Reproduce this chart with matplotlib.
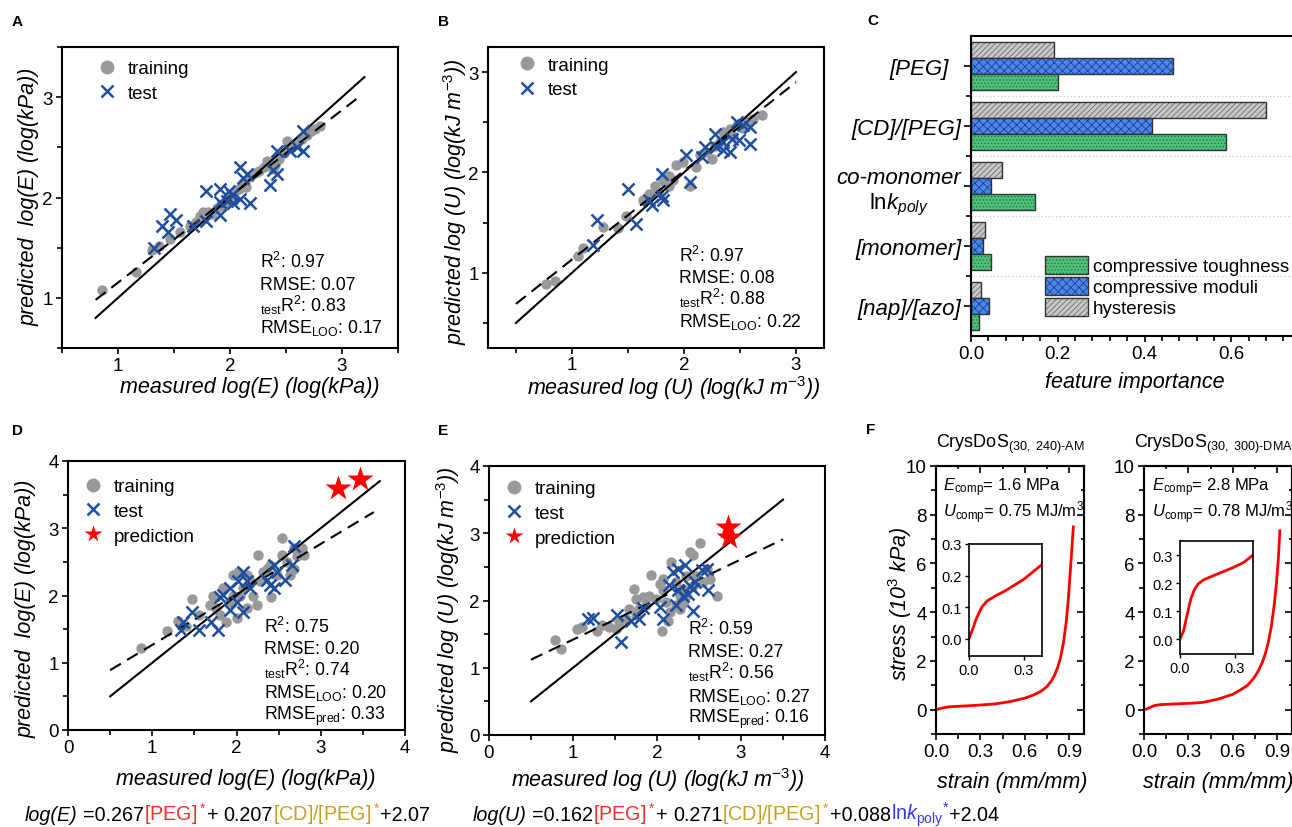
import matplotlib
matplotlib.use("Agg")
import matplotlib.pyplot as plt
from matplotlib.patches import Patch
from matplotlib.ticker import MultipleLocator, FormatStrFormatter

plt.rcParams['font.family'] = ['Liberation Sans', 'DejaVu Sans']
plt.rcParams['mathtext.fontset'] = 'custom'
plt.rcParams['mathtext.rm'] = 'Liberation Sans'
plt.rcParams['mathtext.it'] = 'Liberation Sans:italic'
plt.rcParams['mathtext.bf'] = 'Liberation Sans:bold'
plt.rcParams['hatch.linewidth'] = 0.6

W, H = 1292, 828
GRAY = '#999999'
BLUE = '#1F4E9F'

# ---- panel A: compressive moduli, training / test ----
A_TRAIN_X = [0.86, 1.16, 1.30, 1.37, 1.46, 1.55, 1.64, 1.70, 1.73, 1.76, 1.80, 1.84, 1.88, 1.92,
             1.96, 2.00, 2.04, 2.08, 2.12, 2.14, 2.18, 2.22, 2.26, 2.30, 2.33, 2.36, 2.40, 2.44,
             2.48, 2.51, 2.55, 2.60, 2.64, 2.69, 2.72, 2.76, 2.80, 2.04, 1.95, 2.38]
A_TRAIN_Y = [1.08, 1.26, 1.48, 1.52, 1.59, 1.66, 1.72, 1.76, 1.82, 1.86, 1.86, 1.84, 1.90, 1.94,
             1.98, 2.02, 2.04, 2.08, 2.14, 2.10, 2.20, 2.24, 2.26, 2.30, 2.36, 2.34, 2.32, 2.38,
             2.44, 2.56, 2.50, 2.54, 2.58, 2.62, 2.66, 2.68, 2.71, 1.98, 1.92, 2.28]
A_TEST_X = [1.32, 1.39, 1.46, 1.52, 1.45, 1.67, 1.79, 1.79, 1.91, 1.91, 1.99, 1.97, 2.03, 2.09,
            2.18, 2.09, 2.12, 2.15, 2.36, 2.38, 2.42, 2.42, 2.54, 2.60, 2.65, 2.65, 1.91, 2.02]
A_TEST_Y = [1.50, 1.72, 1.84, 1.78, 1.66, 1.72, 1.77, 2.06, 1.83, 2.08, 2.06, 1.97, 1.95, 1.99,
            1.95, 2.30, 2.19, 2.23, 2.12, 2.27, 2.23, 2.46, 2.46, 2.50, 2.46, 2.66, 1.96, 2.02]
A_PARITY = [0.8, 3.2]
A_FIT_X = [0.8, 3.15]
A_FIT_Y = [0.98, 3.0]
A_STATS = ["R$^2$: 0.97", "RMSE: 0.07", "$_{\\mathrm{test}}$R$^2$: 0.83",
           "RMSE$_{\\mathrm{LOO}}$: 0.17"]

# ---- panel B: compressive toughness, training / test ----
B_TRAIN_X = [0.77, 0.85, 1.05, 1.10, 1.28, 1.41, 1.48, 1.63, 1.69, 1.74, 1.81, 1.87, 1.93, 1.99,
             2.11, 2.05, 2.14, 2.20, 2.25, 2.32, 2.35, 2.41, 2.47, 2.56, 2.62, 2.70, 1.87, 1.77,
             1.90, 2.28, 2.44, 2.52]
B_TRAIN_Y = [0.89, 0.92, 1.17, 1.25, 1.46, 1.45, 1.57, 1.73, 1.78, 1.86, 1.91, 1.96, 2.07, 2.10,
             2.05, 1.86, 2.17, 2.20, 2.13, 2.30, 2.40, 2.43, 2.47, 2.50, 2.53, 2.57, 1.86, 1.80,
             1.92, 2.26, 2.36, 2.44]
B_TEST_X = [1.19, 1.22, 1.50, 1.57, 1.69, 1.71, 1.80, 1.80, 1.81, 2.05, 2.02, 2.16, 2.19, 2.28,
            2.29, 2.35, 2.35, 2.41, 2.43, 2.49, 2.47, 2.59, 2.59, 2.53]
B_TEST_Y = [1.28, 1.53, 1.83, 1.49, 1.73, 1.68, 1.98, 1.76, 1.73, 1.90, 2.17, 2.15, 2.25, 2.38,
            2.25, 2.30, 2.22, 2.20, 2.33, 2.32, 2.50, 2.45, 2.28, 2.47]
B_PARITY = [0.5, 3.0]
B_FIT_X = [0.5, 3.0]
B_FIT_Y = [0.69, 2.9]
B_STATS = ["R$^2$: 0.97", "RMSE: 0.08", "$_{\\mathrm{test}}$R$^2$: 0.88",
           "RMSE$_{\\mathrm{LOO}}$: 0.22"]

# ---- panel C: feature importance ----
FEATURES = ["[PEG]  ", "[CD]/[PEG]", "co-monomer\n$\\mathrm{ln}k_{poly}$", "[monomer]", "[nap]/[azo]"]
HYSTERESIS = [0.192, 0.680, 0.071, 0.032, 0.022]
MODULI = [0.466, 0.417, 0.045, 0.028, 0.042]
TOUGHNESS = [0.201, 0.587, 0.147, 0.046, 0.018]

# ---- panel D: moduli with predictions ----
D_TRAIN_X = [0.87, 1.18, 1.31, 1.47, 1.68, 1.80, 1.88, 1.96, 2.02, 2.12, 2.20, 2.24, 2.25, 2.32,
             2.40, 2.41, 2.54, 2.54, 2.68, 2.78, 2.80, 1.92, 2.04, 2.08, 1.76, 1.56, 2.16, 2.28,
             2.48, 2.60, 2.64, 2.68, 1.96, 1.84, 2.12, 2.36, 1.72, 1.40, 2.00, 2.72]
D_TRAIN_Y = [1.22, 1.47, 1.62, 1.95, 1.86, 1.71, 1.61, 2.31, 2.35, 2.31, 2.00, 1.86, 2.60, 2.35,
             2.45, 1.98, 2.85, 2.60, 2.40, 2.70, 2.60, 1.91, 2.00, 2.11, 1.81, 1.71, 2.21, 2.21,
             2.31, 2.50, 2.31, 2.70, 2.00, 2.11, 1.81, 2.40, 2.00, 1.55, 1.66, 2.58]
D_TEST_X = [1.34, 1.47, 1.36, 1.56, 1.70, 1.78, 1.80, 1.92, 1.92, 2.00, 2.02, 2.08, 2.08, 2.12,
            2.16, 2.36, 2.40, 2.45, 2.45, 2.48, 2.58, 2.66, 2.68, 1.84]
D_TEST_Y = [1.48, 1.75, 1.61, 1.48, 1.61, 1.48, 1.98, 2.11, 1.78, 1.91, 2.21, 2.35, 1.76, 2.21,
            2.11, 2.23, 2.15, 2.11, 2.45, 2.35, 2.23, 2.45, 2.73, 2.01]
D_PRED_X = [3.21, 3.46]
D_PRED_Y = [3.60, 3.73]
D_PARITY = [0.5, 3.7]
D_FIT_X = [0.5, 3.63]
D_FIT_Y = [0.89, 3.24]
D_STATS = ["R$^2$: 0.75", "RMSE: 0.20", "$_{\\mathrm{test}}$R$^2$: 0.74",
           "RMSE$_{\\mathrm{LOO}}$: 0.20", "RMSE$_{\\mathrm{pred}}$: 0.33"]

# ---- panel E: toughness with predictions ----
E_TRAIN_X = [0.78, 0.86, 1.05, 1.11, 1.29, 1.35, 1.43, 1.51, 1.63, 1.73, 1.75, 1.83, 1.91, 1.93,
             2.03, 2.07, 2.06, 2.13, 2.15, 2.17, 2.23, 2.27, 2.31, 2.35, 2.39, 2.43, 2.47, 2.51,
             2.59, 2.63, 2.71, 1.99, 1.87, 1.67, 2.11, 2.31, 2.43, 2.55, 2.07, 2.23, 1.75, 1.55,
             2.27, 1.79, 2.35]
E_TRAIN_Y = [1.42, 1.28, 1.57, 1.60, 1.54, 1.63, 1.60, 1.58, 1.73, 2.17, 2.02, 2.05, 2.07, 2.38,
             2.25, 2.15, 1.54, 1.70, 1.83, 2.57, 2.27, 2.07, 1.97, 2.37, 2.72, 2.67, 2.37, 2.85,
             2.47, 2.32, 2.07, 2.02, 1.93, 1.88, 1.98, 2.17, 2.22, 2.27, 2.32, 1.93, 1.78, 1.68,
             1.88, 1.88, 2.07]
E_TEST_X = [1.18, 1.24, 1.52, 1.57, 1.69, 1.79, 1.83, 2.03, 2.07, 2.14, 2.19, 2.23, 2.25, 2.31,
            2.33, 2.39, 2.43, 2.43, 2.45, 2.53, 2.59, 2.61, 2.37, 2.25]
E_TEST_Y = [1.73, 1.74, 1.78, 1.38, 1.70, 1.73, 1.89, 1.90, 1.72, 2.23, 2.42, 1.93, 2.47, 2.07,
            2.53, 2.22, 2.17, 1.85, 2.27, 2.45, 2.47, 2.15, 2.10, 2.15]
E_PRED_X = [2.84, 2.86]
E_PRED_Y = [3.09, 2.94]
E_PARITY = [0.5, 3.5]
E_FIT_X = [0.5, 3.5]
E_FIT_Y = [1.12, 2.91]
E_STATS = ["R$^2$: 0.59", "RMSE: 0.27", "$_{\\mathrm{test}}$R$^2$: 0.56",
           "RMSE$_{\\mathrm{LOO}}$: 0.27", "RMSE$_{\\mathrm{pred}}$: 0.16"]

# ---- panel F: stress-strain curves ----
F1_STRAIN = [0.0, 0.02, 0.04, 0.07, 0.1, 0.15, 0.2, 0.3, 0.4, 0.5, 0.6, 0.65, 0.7, 0.72, 0.75,
             0.78, 0.8, 0.82, 0.84, 0.86, 0.88, 0.895, 0.91, 0.92, 0.928]
F1_STRESS = [0.0, 0.03, 0.063, 0.1, 0.12, 0.137, 0.152, 0.188, 0.235, 0.33, 0.47, 0.58, 0.72,
             0.8, 0.95, 1.18, 1.4, 1.7, 2.1, 2.7, 3.6, 4.6, 5.9, 6.8, 7.5]
F2_STRAIN = [0.0, 0.02, 0.04, 0.06, 0.08, 0.1, 0.13, 0.2, 0.29, 0.35, 0.4, 0.5, 0.6, 0.66, 0.7,
             0.74, 0.77, 0.8, 0.82, 0.84, 0.86, 0.88, 0.895, 0.908, 0.918]
F2_STRESS = [0.0, 0.03, 0.09, 0.145, 0.178, 0.197, 0.212, 0.231, 0.255, 0.274, 0.3, 0.43, 0.63,
             0.84, 1.0, 1.28, 1.56, 1.95, 2.3, 2.77, 3.4, 4.3, 5.2, 6.2, 7.34]


def px_axes(fig, l, t, r, b):
    return fig.add_axes([l / W, 1 - b / H, (r - l) / W, (b - t) / H])


def px_text(fig, x, y, s, **kw):
    return fig.text(x / W, 1 - y / H, s, **kw)


def style_box(ax, lw=1.5):
    for sp in ax.spines.values():
        sp.set_linewidth(lw)
    ax.tick_params(which='both', direction='out', width=1.2, labelsize=13.5, pad=2.5)
    ax.tick_params(which='major', length=4)
    ax.tick_params(which='minor', length=3.5)


def parity_panel(ax, tx, ty, sx, sy, parity, fx, fy, lims, major, anchor, px=None, py=None):
    ax.plot(tx, ty, 'o', ms=7.5, color=GRAY, mec='none', label='training', zorder=2)
    ax.plot(parity, parity, color='black', lw=1.5, zorder=3)
    ax.plot(fx, fy, color='black', lw=1.5, dashes=(6, 3.5), zorder=3)
    ax.plot(sx, sy, 'x', ms=9, mew=1.8, color=BLUE, label='test', zorder=4)
    if px is not None:
        ax.plot(px, py, '*', ms=19, color='red', mec='none', label='prediction', zorder=5)
    ax.set_xlim(lims)
    ax.set_ylim(lims)
    ax.xaxis.set_major_locator(MultipleLocator(major))
    ax.yaxis.set_major_locator(MultipleLocator(major))
    ax.xaxis.set_minor_locator(MultipleLocator(0.5))
    ax.yaxis.set_minor_locator(MultipleLocator(0.5))
    style_box(ax)
    leg = ax.legend(loc='upper left', bbox_to_anchor=anchor, frameon=False, fontsize=13.5,
                    handlelength=1.0, handletextpad=0.6, labelspacing=0.4,
                    borderpad=0, borderaxespad=0)
    sizes = [10, 9, 13]
    for h, s in zip(leg.legend_handles, sizes):
        h.set_markersize(s)


def stats_block(fig, x, ys, lines):
    for y, s in zip(ys, lines):
        px_text(fig, x, y, s, fontsize=12.7, va='baseline')


def main():
    fig = plt.figure(figsize=(W / 100, H / 100), dpi=100)
    lab_kw = dict(fontsize=15.5, style='italic')

    # A
    ax = px_axes(fig, 62, 48, 398, 349)
    parity_panel(ax, A_TRAIN_X, A_TRAIN_Y, A_TEST_X, A_TEST_Y, A_PARITY, A_FIT_X, A_FIT_Y,
                 (0.5, 3.5), 1, (0.106, 0.956))
    stats_block(fig, 260, [268, 290, 312, 333], A_STATS)
    px_text(fig, 250, 393, "measured log(E) (log(kPa))", ha='center', va='baseline', **lab_kw)
    px_text(fig, 35, 197, "predicted  log(E) (log(kPa))", rotation=90, ha='center',
            va='baseline', rotation_mode='anchor', **lab_kw)

    # B
    ax = px_axes(fig, 488, 48, 824, 349)
    parity_panel(ax, B_TRAIN_X, B_TRAIN_Y, B_TEST_X, B_TEST_Y, B_PARITY, B_FIT_X, B_FIT_Y,
                 (0.25, 3.25), 1, (0.089, 0.968))
    ax.tick_params(axis='x', pad=1.5)
    stats_block(fig, 679, [262, 283, 305, 327], B_STATS)
    px_text(fig, 674, 395, "measured log (U) (log(kJ m$^{-3}$))", ha='center', va='baseline',
            **lab_kw)
    px_text(fig, 462, 202, "predicted log (U) (log(kJ m$^{-3}$))", rotation=90, ha='center',
            va='baseline', rotation_mode='anchor', **lab_kw)

    # C
    ax = px_axes(fig, 971, 37, 1292, 337)
    cats = list(range(len(FEATURES)))
    bh = 0.27
    series = [(HYSTERESIS, -bh, '#C8C8C8', '#6E6E6E', '//////'),
              (MODULI, 0.0, '#4A86E8', '#1A3F8F', 'xxxx'),
              (TOUGHNESS, bh, '#4FBF7A', '#1E7A40', '.....')]
    handles = {}
    for vals, off, fc, hc, hatch in series:
        pos = [c + off for c in cats]
        ax.barh(pos, vals, height=bh, color=fc, edgecolor=hc, hatch=hatch, linewidth=0)
        ax.barh(pos, vals, height=bh, fill=False, edgecolor='#333333', linewidth=1.0)
        handles[hatch] = (Patch(facecolor=fc, edgecolor=hc, hatch=hatch, linewidth=0),
                          Patch(fill=False, edgecolor='#333333', linewidth=1.0))
    ax.set_ylim(4.5, -0.5)
    ax.set_xlim(0, 0.74)
    ax.set_yticks(cats)
    ax.set_yticklabels(FEATURES, style='italic')
    ax.set_yticks([0.5, 1.5, 2.5, 3.5], minor=True)
    ax.grid(which='minor', axis='y', linestyle=':', color='#cccccc', linewidth=1)
    ax.xaxis.set_major_locator(MultipleLocator(0.2))
    ax.xaxis.set_minor_locator(MultipleLocator(0.04))
    ax.xaxis.set_major_formatter(FormatStrFormatter('%.1f'))
    style_box(ax)
    ax.tick_params(axis='y', which='major', pad=2, length=5, labelsize=16)
    for lbl in ax.get_yticklabels():
        lbl.set_multialignment('center')
    ax.spines['right'].set_visible(False)
    ax.legend([handles['.....'], handles['xxxx'], handles['//////']],
              ['compressive toughness', 'compressive moduli', 'hysteresis'],
              loc='upper left', bbox_to_anchor=(0.2305, 0.267), frameon=False, fontsize=13.5,
              handlelength=2.3, handleheight=1.07, handletextpad=0.27, labelspacing=0.1,
              borderpad=0, borderaxespad=0)
    px_text(fig, 1135, 388, "feature importance", ha='center', va='baseline', **lab_kw)

    # D
    ax = px_axes(fig, 68, 462, 405, 731)
    parity_panel(ax, D_TRAIN_X, D_TRAIN_Y, D_TEST_X, D_TEST_Y, D_PARITY, D_FIT_X, D_FIT_Y,
                 (0, 4), 1, (0.046, 0.936), D_PRED_X, D_PRED_Y)
    stats_block(fig, 264, [633, 654, 676, 698, 720], D_STATS)
    px_text(fig, 246, 785, "measured log(E) (log(kPa))", ha='center', va='baseline', **lab_kw)
    px_text(fig, 32, 609, "predicted  log(E) (log(kPa))", rotation=90, ha='center',
            va='baseline', rotation_mode='anchor', **lab_kw)

    # E
    ax = px_axes(fig, 489, 467, 825, 736)
    parity_panel(ax, E_TRAIN_X, E_TRAIN_Y, E_TEST_X, E_TEST_Y, E_PARITY, E_FIT_X, E_FIT_Y,
                 (0, 4), 1, (0.046, 0.947), E_PRED_X, E_PRED_Y)
    stats_block(fig, 688, [635, 657, 679, 702, 723], E_STATS)
    px_text(fig, 658, 787, "measured log (U) (log(kJ m$^{-3}$))", ha='center', va='baseline',
            **lab_kw)
    px_text(fig, 455, 610, "predicted log (U) (log(kJ m$^{-3}$))", rotation=90, ha='center',
            va='baseline', rotation_mode='anchor', **lab_kw)

    # F
    f_specs = [
        ((936, 467, 1084, 735), (969, 545, 1042, 657), F1_STRAIN, F1_STRESS, (-0.055, 0.3),
         "CrysDoS$_{\\mathrm{(30,\\ 240)\\text{-}AM}}$", 1010,
         "$E_{\\mathrm{comp}}$= 1.6 MPa", "$U_{\\mathrm{comp}}$= 0.75 MJ/m$^3$", 943, 1012),
        ((1144, 467, 1292, 735), (1180, 542, 1253, 655), F2_STRAIN, F2_STRESS, (-0.053, 0.35),
         "CrysDoS$_{\\mathrm{(30,\\ 300)\\text{-}DMA}}$", 1213,
         "$E_{\\mathrm{comp}}$= 2.8 MPa", "$U_{\\mathrm{comp}}$= 0.78 MJ/m$^3$", 1152, 1218),
    ]
    for box, ibox, strain, stress, iylim, title, tx, e_txt, u_txt, sx, lx in f_specs:
        ax = px_axes(fig, *box)
        ax.plot(strain, stress, color='red', lw=2)
        ax.set_xlim(0, 1.0)
        ax.set_ylim(-1, 10)
        ax.xaxis.set_major_locator(MultipleLocator(0.3))
        ax.xaxis.set_minor_locator(MultipleLocator(0.15))
        ax.yaxis.set_major_locator(MultipleLocator(2))
        ax.yaxis.set_minor_locator(MultipleLocator(1))
        ax.xaxis.set_major_formatter(FormatStrFormatter('%.1f'))
        style_box(ax)
        sec_y = ax.secondary_yaxis('right')
        sec_y.yaxis.set_major_locator(MultipleLocator(2))
        sec_y.yaxis.set_minor_locator(MultipleLocator(1))
        sec_y.tick_params(which='both', direction='in', labelright=False, width=1.2)
        sec_y.tick_params(which='major', length=5)
        sec_y.spines['right'].set_linewidth(1.5)
        sec_x = ax.secondary_xaxis('top')
        sec_x.xaxis.set_major_locator(MultipleLocator(0.3))
        sec_x.xaxis.set_minor_locator(MultipleLocator(0.15))
        sec_x.tick_params(which='both', direction='in', labeltop=False, width=1.2)
        sec_x.tick_params(which='major', length=5)
        sec_x.spines['top'].set_linewidth(1.5)
        px_text(fig, tx, 448, title, ha='center', va='baseline', fontsize=13)
        px_text(fig, sx, 491, e_txt, va='baseline', fontsize=12)
        px_text(fig, sx, 518, u_txt, va='baseline', fontsize=12)
        px_text(fig, lx, 788, "strain (mm/mm)", ha='center', va='baseline', **lab_kw)

        ins = px_axes(fig, *ibox)
        ins.plot(strain, stress, color='red', lw=2)
        ins.set_xlim(0, 0.4)
        ins.set_ylim(iylim)
        ins.set_xticks([0.0, 0.3])
        ins.set_yticks([0.0, 0.1, 0.2, 0.3])
        ins.xaxis.set_major_formatter(FormatStrFormatter('%.1f'))
        ins.yaxis.set_major_formatter(FormatStrFormatter('%.1f'))
        for sp in ins.spines.values():
            sp.set_linewidth(1.2)
        ins.tick_params(direction='out', length=3, width=1, labelsize=10.5, pad=2)
    px_text(fig, 907, 604, "stress (10$^3$ kPa)", rotation=90, ha='center', va='baseline',
            rotation_mode='anchor', **lab_kw)

    # panel letters
    for s, x, y in [('A', 12, 22), ('B', 438, 22), ('C', 867, 21), ('D', 12, 431),
                    ('E', 438, 431), ('F', 866, 430)]:
        px_text(fig, x, y, s, fontsize=11, fontweight='bold', va='center')

    # regression formulas, built piece by piece
    red, gold, blue = '#FF2A2A', '#C9A01E', '#3636F5'
    formulas = [
        (25, [("log(E)", 'black', 'italic'), (" ", None, None), ("=0.267", 'black', 'normal'),
              ("[PEG]$^*$", red, 'normal'), ("+", 'black', 'normal'), (" ", None, None),
              ("0.207", 'black', 'normal'), ("[CD]/[PEG]$^*$", gold, 'normal'),
              ("+2.07", 'black', 'normal')]),
        (473, [("log(U)", 'black', 'italic'), (" ", None, None), ("=0.162", 'black', 'normal'),
               ("[PEG]$^*$", red, 'normal'), ("+", 'black', 'normal'), (" ", None, None),
               ("0.271", 'black', 'normal'), ("[CD]/[PEG]$^*$", gold, 'normal'),
               ("+0.088", 'black', 'normal'),
               ("$\\mathrm{ln}k_{\\mathrm{poly}}{}^{*}$", blue, 'normal'),
               ("+2.04", 'black', 'normal')]),
    ]
    fsize = 14.2
    renderer = fig.canvas.get_renderer()
    probe = px_text(fig, 0, 0, "a a", fontsize=fsize)
    w_sp = probe.get_window_extent(renderer).width
    probe.set_text("aa")
    w_sp -= probe.get_window_extent(renderer).width
    probe.remove()
    for x0, pieces in formulas:
        x = x0
        for s, col, st in pieces:
            if col is None:
                x += w_sp
                continue
            t = px_text(fig, x, 821, s, fontsize=fsize, color=col, style=st, va='baseline')
            x += t.get_window_extent(renderer).width

    fig.savefig("out.png", dpi=100)


if __name__ == '__main__':
    main()
